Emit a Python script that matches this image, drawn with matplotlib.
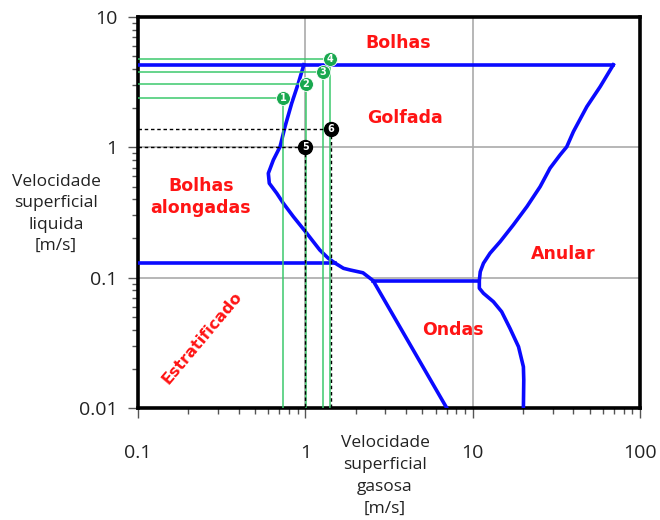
import numpy as np
import matplotlib
matplotlib.use("Agg")
import matplotlib.pyplot as plt

# eixos (m/s)
x_ticks = [0.1, 1, 10, 100]
x_tick_labels = ["0.1", "1", "10", "100"]
y_ticks = [0.01, 0.1, 1, 10]
y_tick_labels = ["0.01", "0.1", "1", "10"]

# fronteiras entre os padrões de escoamento
bolhas_x = [0.1, 69.3]
bolhas_y = [4.3, 4.3]

anular_x = [69.3, 57.8, 48.1, 40.0, 36.5, 33.3, 29.0, 25.3, 21.1, 17.5, 14.6, 12.7, 11.6,
            11.1, 10.96, 10.96, 11.6, 13.3, 14.9, 16.7, 18.8, 20.1, 20.2, 20.1]
anular_y = [4.3, 2.92, 2.05, 1.32, 1.01, 0.875, 0.692, 0.499, 0.351, 0.254, 0.189, 0.154, 0.129,
            0.111, 0.095, 0.083, 0.0759, 0.0654, 0.0548, 0.0409, 0.0295, 0.0207, 0.0164, 0.01]

ondas_x = [2.54, 10.96]
ondas_y = [0.095, 0.095]

golfada_x = [0.98, 0.908, 0.829, 0.756, 0.706, 0.644, 0.601, 0.609, 0.675, 0.739, 0.848,
             1.02, 1.22, 1.37, 1.51, 1.69, 1.85, 2.21, 2.54, 7.0]
golfada_y = [4.3, 3.10, 2.18, 1.44, 1.01, 0.80, 0.632, 0.530, 0.444, 0.372, 0.294,
             0.219, 0.163, 0.141, 0.129, 0.118, 0.1146, 0.109, 0.095, 0.01]

estrat_x = [0.1, 1.51]
estrat_y = [0.129, 0.129]

# pontos experimentais
verde_x = [0.737, 1.01, 1.27, 1.40]
verde_y = [2.41, 3.07, 3.81, 4.73]
verde_n = ["1", "2", "3", "4"]
preto_x = [1.0, 1.42]
preto_y = [1.0, 1.38]
preto_n = ["5", "6"]

W, H = 660, 520
fig = plt.figure(figsize=(W / 100, H / 100), dpi=100)
ax = fig.add_axes([138 / W, 1 - 408 / H, (640 - 138) / W, (408 - 17) / H])
ax.set_xscale("log")
ax.set_yscale("log")
ax.set_xlim(0.1, 100)
ax.set_ylim(0.01, 10)

ax.grid(True, which="major", color="#aaaaaa", lw=1.2, zorder=0)
for s in ax.spines.values():
    s.set_linewidth(2.6)
    s.set_color("black")

ax.set_xticks(x_ticks)
ax.set_xticklabels(x_tick_labels)
ax.set_yticks(y_ticks)
ax.set_yticklabels(y_tick_labels)
ax.tick_params(which="major", direction="out", length=7, width=1, color="#555555",
               labelsize=14, labelcolor="#222222")
ax.tick_params(which="minor", direction="out", length=4, width=1, color="#555555")
ax.tick_params(axis="x", which="both", pad=19)
ax.tick_params(axis="y", which="both", pad=8)
for lab in ax.get_xticklabels() + ax.get_yticklabels():
    lab.set_family("Open Sans")

azul = "#0a0aff"
lw = 2.6
ax.plot(bolhas_x, bolhas_y, color=azul, lw=lw, zorder=3)
ax.plot(anular_x, anular_y, color=azul, lw=lw, zorder=3, solid_joinstyle="round")
ax.plot(ondas_x, ondas_y, color=azul, lw=lw, zorder=3)
ax.plot(golfada_x, golfada_y, color=azul, lw=lw, zorder=3, solid_joinstyle="round")
ax.plot(estrat_x, estrat_y, color=azul, lw=lw, zorder=3)

# linhas de referência até os eixos
verde_linha = "#3cc96c"
verde_ponto = "#19a84f"
for x, y, n in zip(verde_x, verde_y, verde_n):
    ax.plot([0.1, x], [y, y], color=verde_linha, lw=1.1, zorder=4)
    ax.plot([x, x], [y, 0.01], color=verde_linha, lw=1.1, zorder=4)
    ax.plot(x, y, "o", ms=10, color=verde_ponto, mec="white", mew=0.6, zorder=6)
    ax.text(x, y, n, color="white", fontsize=7, fontweight="bold",
            ha="center", va="center", zorder=7)

for x, y, n in zip(preto_x, preto_y, preto_n):
    ax.plot([0.1, x], [y, y], color="black", lw=1, ls=(0, (2.5, 2)), zorder=5)
    ax.plot([x, x], [y, 0.01], color="black", lw=1, ls=(0, (2.5, 2)), zorder=5)
    ax.plot(x, y, "o", ms=10, color="black", zorder=6)
    ax.text(x, y, n, color="white", fontsize=7, fontweight="bold",
            ha="center", va="center", zorder=7)

# nomes das regiões
vermelho = "#ff1414"
estilo = dict(color=vermelho, fontweight="bold", ha="center", va="center", zorder=8)
ax.text(3.61, 6.33, "Bolhas", fontsize=12.5, **estilo)
ax.text(3.94, 1.67, "Golfada", fontsize=12.5, **estilo)
ax.text(0.238, 0.416, "Bolhas\nalongadas", fontsize=12.5, linespacing=1.25, **estilo)
ax.text(34.7, 0.152, "Anular", fontsize=12.5, **estilo)
ax.text(7.64, 0.0397, "Ondas", fontsize=12.5, **estilo)
ax.text(0.241, 0.0348, "Estratificado", fontsize=11.5, rotation=50, **estilo)

fig.text(385 / W, 1 - 476 / H, "Velocidade\nsuperficial\ngasosa\n[m/s]",
         ha="center", va="center", fontsize=12.5, family="Open Sans",
         color="#222222", linespacing=1.5)
fig.text(56 / W, 1 - 214 / H, "Velocidade\nsuperficial\nliquida\n[m/s]",
         ha="center", va="center", fontsize=12.5, family="Open Sans",
         color="#222222", linespacing=1.45)

fig.savefig("out.png", dpi=100, facecolor="white")
